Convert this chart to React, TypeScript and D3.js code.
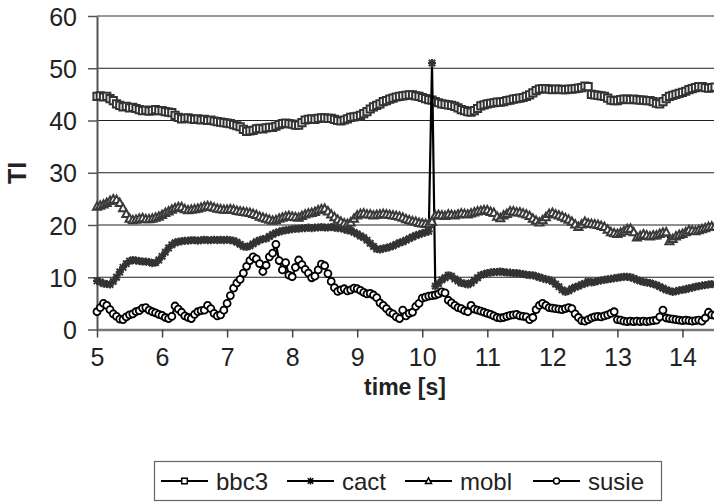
import React, { useEffect, useRef } from "react";
import * as d3 from "d3";

// samples every 0.05 s from t = 5.0 s to 14.5 s
const T0 = 5;
const DT = 0.05;

const bbc3 = [
  44.6, 44.7, 44.5, 44.6, 44.2, 43.8, 43.2, 42.9, 42.6, 42.7,
  42.4, 42.5, 42.3, 42.1, 41.9, 42.0, 41.8, 41.9, 42.1, 41.9,
  41.9, 41.7, 41.6, 41.5, 41.0, 40.6, 40.3, 40.4, 40.5, 40.3,
  40.2, 40.3, 40.1, 40.2, 40.0, 40.1, 39.9, 39.8, 39.7, 39.6,
  39.5, 39.4, 39.2, 39.0, 38.8, 38.3, 37.9, 38.0, 38.1, 38.4,
  38.5, 38.4, 38.6, 38.7, 38.7, 38.9, 39.2, 39.4, 39.5, 39.4,
  39.3, 39.1, 39.1, 39.6, 40.1, 40.2, 40.3, 40.2, 40.4, 40.5,
  40.5, 40.4, 40.4, 40.2, 40.0, 39.9, 40.1, 40.3, 40.6, 40.7,
  40.8, 41.0, 41.3, 41.7, 42.2, 42.6, 42.9, 43.2, 43.6, 43.8,
  44.1, 44.3, 44.5, 44.6, 44.7, 44.8, 44.9, 44.9, 44.7, 44.6,
  44.4, 44.2, 44.0, 43.9, 43.6, 43.4, 43.2, 43.1, 43.0, 42.9,
  42.7, 42.4, 42.1, 41.9, 41.7, 41.6, 41.9, 42.3, 42.8, 43.0,
  43.2, 43.3, 43.4, 43.5, 43.5, 43.6, 43.8, 43.9, 44.1, 44.2,
  44.3, 44.4, 44.6, 44.9, 45.3, 45.7, 46.0, 46.1, 46.1, 46.0,
  45.9, 46.0, 46.0, 45.9, 45.9, 46.0, 46.0, 46.1, 46.2, 46.3,
  46.6, 46.5, 45.0, 44.9, 44.8, 44.7, 44.6, 44.3, 43.9, 43.8,
  43.8, 44.0, 44.1, 44.1, 44.0, 44.1, 44.0, 43.9, 43.9, 43.8,
  43.8, 43.6, 43.3, 43.2, 43.6, 44.2, 44.6, 44.8, 45.0, 45.2,
  45.4, 45.6, 45.9, 46.1, 46.3, 46.5, 46.5, 46.3, 46.2, 46.3,
  46.4,
];

const cact = [
  9.3, 9.1, 8.8, 8.7, 8.6, 9.2, 10.0, 11.0, 11.9, 12.6,
  13.1, 13.3, 13.2, 13.1, 13.0, 13.0, 12.9, 12.7, 12.8, 13.3,
  14.0, 14.8, 15.6, 16.2, 16.6, 16.8, 16.9, 17.0, 17.0, 17.1,
  17.1, 17.0, 17.1, 17.2, 17.1, 17.1, 17.2, 17.1, 17.2, 17.1,
  17.2, 17.1, 17.0, 16.7, 16.3, 15.9, 15.8, 16.0, 16.4, 16.8,
  17.1, 17.3, 17.4, 17.8, 18.2, 18.5, 18.7, 18.9, 19.0, 19.1,
  19.2, 19.3, 19.3, 19.4, 19.4, 19.5, 19.4, 19.5, 19.5, 19.6,
  19.5, 19.5, 19.6, 19.5, 19.4, 19.4, 19.2, 19.0, 18.9, 18.6,
  18.3, 17.9, 17.6, 17.1, 16.5, 15.9, 15.4, 15.3, 15.5, 15.6,
  15.8, 16.0, 16.3, 16.6, 16.8, 17.1, 17.4, 17.7, 18.0, 18.2,
  18.4, 18.6, 18.8, 51.0, 8.3, 8.8, 9.5, 9.9, 10.4, 10.2,
  9.7, 9.3, 8.9, 8.8, 8.6, 8.9, 9.4, 9.9, 10.4, 10.6,
  10.8, 10.9, 11.0, 11.0, 11.1, 11.0, 10.9, 10.9, 10.8, 10.8,
  10.7, 10.6, 10.5, 10.4, 10.4, 10.2, 10.0, 9.8, 9.6, 9.5,
  9.2, 8.7, 8.2, 7.6, 7.2, 7.4, 7.8, 8.1, 8.3, 8.6,
  8.8, 9.2, 9.0, 9.1, 9.3, 9.4, 9.5, 9.6, 9.7, 9.8,
  9.9, 10.0, 10.1, 10.1, 10.0, 9.8, 9.5, 9.3, 9.1, 9.0,
  8.9, 8.7, 8.5, 8.2, 7.9, 7.6, 7.4, 7.2, 7.3, 7.5,
  7.6, 7.7, 7.9, 8.0, 8.2, 8.3, 8.4, 8.5, 8.6, 8.7,
  8.6,
];

const mobl = [
  23.5, 23.7, 23.9, 24.2, 24.6, 24.9, 24.8, 24.2, 23.2, 22.1,
  21.2, 20.9, 21.0, 21.2, 21.3, 21.1, 21.1, 21.2, 21.4, 21.6,
  21.9, 22.3, 22.6, 22.9, 23.2, 23.4, 23.4, 23.0, 22.8, 22.9,
  23.0, 23.1, 23.3, 23.5, 23.6, 23.5, 23.3, 23.1, 23.0, 22.9,
  22.9, 23.0, 22.9, 22.7, 22.6, 22.5, 22.4, 22.3, 22.1, 21.9,
  21.6, 21.4, 21.2, 21.0, 20.8, 20.9, 21.2, 21.4, 21.6, 21.7,
  21.6, 21.5, 21.4, 21.7, 22.0, 22.2, 22.3, 22.5, 22.8, 23.0,
  23.1, 22.6, 22.0, 21.5, 21.0, 20.6, 20.3, 20.2, 20.5, 21.2,
  21.8, 22.1, 22.2, 22.0, 22.0, 21.8, 21.9, 22.0, 22.1, 22.0,
  21.9, 21.8, 21.7, 21.6, 21.4, 21.1, 20.9, 20.7, 20.6, 20.4,
  20.3, 20.2, 20.2, 20.6, 21.8, 21.9, 21.8, 21.7, 22.0, 21.9,
  21.8, 22.0, 22.2, 22.1, 22.0, 22.2, 22.4, 22.6, 22.7, 22.8,
  22.8, 22.5, 22.3, 21.6, 21.3, 21.8, 22.1, 22.6, 22.6, 22.4,
  22.4, 22.2, 22.0, 21.7, 21.2, 20.8, 20.5, 20.9, 21.5, 22.1,
  22.3, 22.0, 21.8, 21.6, 21.3, 21.0, 20.6, 20.1, 19.6, 20.1,
  20.6, 20.3, 20.2, 20.1, 20.0, 19.8, 19.6, 19.1, 18.6, 18.4,
  18.3, 18.5, 18.8, 19.2, 19.3, 18.6, 17.6, 17.9, 18.2, 18.0,
  17.8, 18.0, 18.0, 18.3, 18.5, 18.6, 16.9, 17.3, 17.8, 18.1,
  18.3, 18.6, 19.0, 18.9, 18.8, 19.0, 19.2, 19.4, 19.6, 19.7,
  19.7,
];

const susie = [
  3.4, 4.2, 5.0, 4.6, 3.8, 3.0, 2.5, 2.0, 1.9, 2.4,
  2.8, 3.0, 3.4, 3.6, 4.1, 4.2, 3.7, 3.4, 3.2, 2.9,
  2.7, 2.3, 2.1, 2.5, 4.5, 3.9, 3.3, 2.6, 2.3, 2.1,
  2.9, 3.4, 3.6, 3.7, 4.6, 4.0, 3.1, 2.6, 2.8, 3.7,
  5.0, 6.5, 7.9, 8.9, 9.6, 10.8, 12.1, 13.2, 13.9, 13.5,
  12.6, 11.1, 12.3, 13.9, 14.6, 16.3, 13.2, 11.4, 12.8, 10.4,
  10.1, 11.9, 13.3, 12.4, 11.5, 10.8, 9.9, 10.2, 11.4, 12.5,
  12.2, 10.7, 9.2, 8.0, 7.3, 7.6, 7.8, 7.4, 7.6, 7.9,
  7.8, 7.5, 7.1, 6.8, 6.9, 6.6, 6.1, 5.1, 4.6, 4.0,
  3.3, 3.0, 2.4, 2.1, 3.7, 2.6, 3.1, 3.3, 4.4, 5.0,
  6.0, 6.2, 6.4, 6.5, 6.6, 6.8, 7.2, 7.0, 5.6, 5.1,
  4.6, 4.2, 4.0, 3.6, 3.4, 4.6, 3.9, 3.7, 3.5, 3.3,
  3.1, 2.9, 2.6, 2.3, 2.2, 2.3, 2.5, 2.7, 2.8, 2.9,
  2.6, 2.5, 2.4, 1.9, 2.3, 3.8, 4.6, 5.0, 4.6, 4.2,
  4.1, 4.0, 3.9, 3.8, 4.0, 4.2, 4.0, 3.0, 2.3, 1.7,
  1.6, 1.9, 2.2, 2.4, 2.5, 2.4, 2.6, 2.8, 3.1, 3.4,
  1.9, 1.8, 1.6, 1.5, 1.6, 1.5, 1.6, 1.5, 1.6, 1.5,
  1.6, 1.7, 1.8, 2.4, 3.7, 2.2, 2.1, 2.0, 1.9, 1.8,
  1.7, 1.8, 1.7, 1.6, 1.7, 1.8, 1.6, 2.2, 3.3, 2.8,
  2.7,
];

const seriesNames = ["bbc3", "cact", "mobl", "susie"];
const seriesValues = [bbc3, cact, mobl, susie];
const yTicks = [0, 10, 20, 30, 40, 50, 60];
const xTicks = [5, 6, 7, 8, 9, 10, 11, 12, 13, 14];

const FONT = "'Liberation Sans', Arial, sans-serif";

// marker shapes
const markerPath = {
  bbc3: "M-3.6,-3.6H3.6V3.6H-3.6Z",
  cact: "M-3.2,-3.2L3.2,3.2M-3.2,3.2L3.2,-3.2M0,-4V4M-4,0H4",
  mobl: "M0,-4.4L4,3H-4Z",
  susie: "M3.5,0A3.5,3.5 0 1,1 -3.5,0A3.5,3.5 0 1,1 3.5,0Z",
};
const markerStroke = { bbc3: "#333", cact: "#333", mobl: "#3a3a3a", susie: "#000" };
const markerFill = { bbc3: "#fff", cact: "none", mobl: "#fff", susie: "#fff" };
const markerWidth = { bbc3: 2, cact: 2, mobl: 2, susie: 1.8 };

const legendPath = {
  bbc3: "M-2.8,-2.8H2.8V2.8H-2.8Z",
  cact: "M-2.8,-2.8L2.8,2.8M-2.8,2.8L2.8,-2.8M0,-3.4V3.4",
  mobl: "M0,-3.2L3,2.4H-3Z",
  susie: "M3,0A3,3 0 1,1 -3,0A3,3 0 1,1 3,0Z",
};

const Chart = () => {
  const ref = useRef(null);

  useEffect(() => {
    const svg = d3.select(ref.current);
    svg.selectAll("*").remove();

    const x = d3.scaleLinear().domain([5, 14.5]).range([97, 715]);
    const y = d3.scaleLinear().domain([0, 60]).range([329.5, 16]);

    // grid lines
    svg
      .append("g")
      .selectAll("line")
      .data(yTicks.filter((d) => d > 0))
      .join("line")
      .attr("x1", 97)
      .attr("x2", 714)
      .attr("y1", (d) => y(d))
      .attr("y2", (d) => y(d))
      .attr("stroke", (d) => (d === 60 ? "#999" : "#222"))
      .attr("stroke-width", (d) => (d === 60 ? 2 : 1));

    // y axis
    const yAxis = svg
      .append("g")
      .attr("transform", "translate(97,0)")
      .call(d3.axisLeft(y).tickValues(yTicks).tickSize(9).tickSizeOuter(0).tickPadding(11));
    yAxis.select(".domain").attr("stroke", "#555").attr("stroke-width", 2);
    yAxis.selectAll(".tick line").attr("stroke", "#555").attr("stroke-width", 1.5);
    yAxis
      .selectAll(".tick text")
      .attr("font-family", FONT)
      .attr("font-size", 25)
      .attr("fill", "#222")
      .attr("dy", "0.36em");

    // x axis
    const xAxis = svg
      .append("g")
      .attr("transform", "translate(0,329.5)")
      .call(d3.axisBottom(x).tickValues(xTicks).tickSize(8).tickSizeOuter(0).tickPadding(11));
    xAxis.select(".domain").attr("stroke", "#777").attr("stroke-width", 2.5);
    xAxis.selectAll(".tick line").attr("stroke", "#444").attr("stroke-width", 1.5);
    xAxis
      .selectAll(".tick text")
      .attr("font-family", FONT)
      .attr("font-size", 25)
      .attr("fill", "#222");

    // axis titles
    svg
      .append("text")
      .attr("x", 405)
      .attr("y", 395)
      .attr("text-anchor", "middle")
      .attr("font-family", FONT)
      .attr("font-weight", "bold")
      .attr("font-size", 23)
      .attr("fill", "#222")
      .text("time [s]");
    svg
      .append("text")
      .attr("transform", "translate(26,173) rotate(-90)")
      .attr("text-anchor", "middle")
      .attr("font-family", FONT)
      .attr("font-weight", "bold")
      .attr("font-size", 25)
      .attr("fill", "#222")
      .text("TI");

    // series
    const line = d3
      .line()
      .x((d, i) => x(T0 + i * DT))
      .y((d) => y(d));

    seriesNames.forEach((name, k) => {
      const values = seriesValues[k];
      const g = svg.append("g");
      g.append("path")
        .attr("d", line(values))
        .attr("fill", "none")
        .attr("stroke", "#000")
        .attr("stroke-width", 2.2);
      g.selectAll("path.m")
        .data(values)
        .join("path")
        .attr("class", "m")
        .attr("d", markerPath[name])
        .attr("transform", (d, i) => `translate(${x(T0 + i * DT)},${y(d)})`)
        .attr("fill", markerFill[name])
        .attr("stroke", markerStroke[name])
        .attr("stroke-width", markerWidth[name]);
    });

    // legend
    const legend = svg.append("g");
    legend
      .append("rect")
      .attr("x", 154.5)
      .attr("y", 461.5)
      .attr("width", 507)
      .attr("height", 39)
      .attr("fill", "#fff")
      .attr("stroke", "#666")
      .attr("stroke-width", 1.2);
    const itemX = [161, 287, 405, 533];
    seriesNames.forEach((name, k) => {
      const g = legend.append("g").attr("transform", `translate(${itemX[k]},481)`);
      g.append("line")
        .attr("x1", 0)
        .attr("x2", 47)
        .attr("stroke", "#000")
        .attr("stroke-width", 2);
      g.append("path")
        .attr("d", legendPath[name])
        .attr("transform", "translate(23.5,0)")
        .attr("fill", markerFill[name] === "none" ? "none" : "#fff")
        .attr("stroke", "#000")
        .attr("stroke-width", 1.5);
      g.append("text")
        .attr("x", 55)
        .attr("y", 8.5)
        .attr("font-family", FONT)
        .attr("font-size", 24)
        .attr("fill", "#222")
        .text(name);
    });
  }, []);

  return (
    <svg
      ref={ref}
      width={714}
      height={503}
      style={{ position: "absolute", left: 0, top: 0, background: "#fff" }}
    ></svg>
  );
};

export default function App() {
  return <Chart />;
}
